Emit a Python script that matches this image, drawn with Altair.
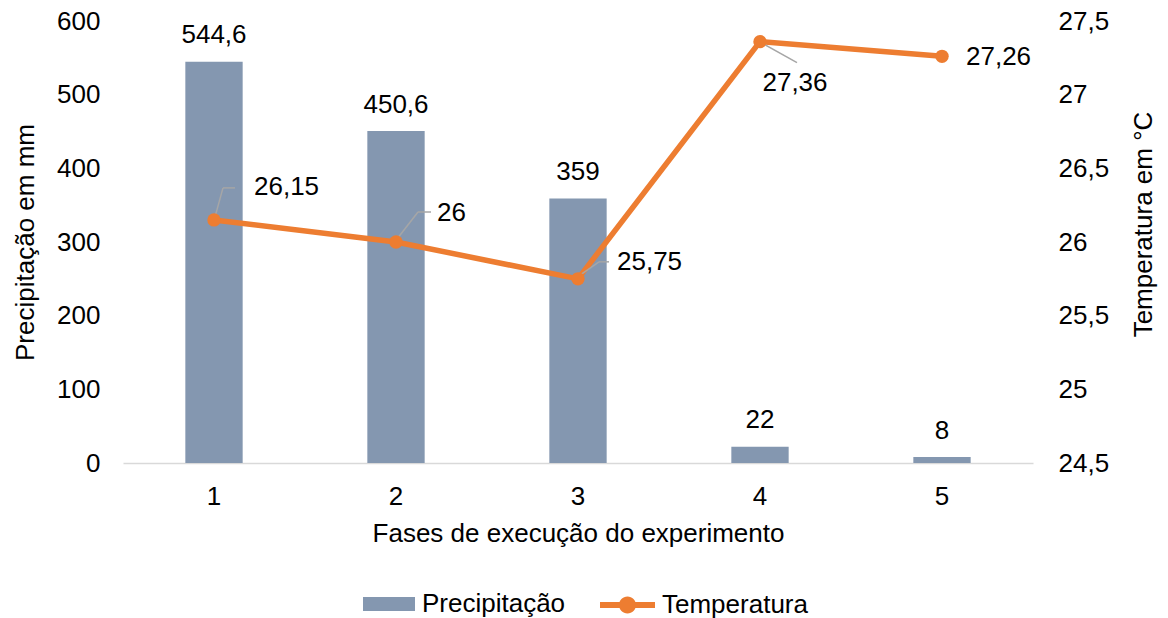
import altair as alt
import pandas as pd

fases = ["1", "2", "3", "4", "5"]
precipitacao = [544.6, 450.6, 359, 22, 8]
temperatura = [26.15, 26, 25.75, 27.36, 27.26]
left_ticks = [0, 100, 200, 300, 400, 500, 600]
right_ticks = [24.5, 25, 25.5, 26, 26.5, 27, 27.5]


def br(v):
    return f"{v:g}".replace(".", ",")


df = pd.DataFrame({
    "fase": fases,
    "prec": precipitacao,
    "temp": temperatura,
    "prec_lbl": [br(v) for v in precipitacao],
    "temp_lbl": [br(v) for v in temperatura],
    "s1": ["Precipitação"] * len(fases),
    "s2": ["Temperatura"] * len(fases),
})

FONT = "Liberation Sans"
FS = 26
BAR = "#8497B0"
ORANGE = "#ED7D31"
LEAD = "#A6A6A6"

x_axis = alt.Axis(
    title="Fases de execução do experimento", labelAngle=0, ticks=False,
    domainColor="#D9D9D9", domainWidth=1.5, labelPadding=20, titlePadding=11,
)
x_scale = alt.Scale(paddingInner=0.685, paddingOuter=0.3425)


def xenc(**kw):
    return alt.X("fase:N", scale=x_scale, axis=x_axis, **kw)


y_left = alt.Y(
    "prec:Q",
    scale=alt.Scale(domain=[0, 600], nice=False),
    axis=alt.Axis(values=left_ticks, title="Precipitação em mm", domain=False,
                  ticks=False, grid=False, labelPadding=23, titlePadding=18),
)
y_right = alt.Y(
    "temp:Q",
    scale=alt.Scale(domain=[24.5, 27.5], nice=False, zero=False),
    axis=alt.Axis(orient="right", values=right_ticks, format=".1~f",
                  labelExpr="replace(datum.label, '.', ',')",
                  title="Temperatura em °C", titleAngle=270, titleY=203,
                  domain=False, ticks=False, grid=False, labelPadding=25,
                  titlePadding=48),
)

base = alt.Chart(df)

bar_sym = "M-1,-0.27L1,-0.27L1,0.27L-1,0.27Z"
line_sym = ("M-1,-0.11L1,-0.11L1,0.11L-1,0.11Z "
            "M-0.31,0A0.31,0.31 0 1 1 0.31,0A0.31,0.31 0 1 1 -0.31,0Z")

bars = base.mark_bar(color=BAR).encode(
    x=xenc(),
    y=y_left,
    color=alt.Color("s1:N", scale=alt.Scale(domain=["Precipitação"], range=[BAR]),
                    legend=alt.Legend(title=None, orient="none", legendX=240, legendY=557,
                                      symbolType=bar_sym, symbolSize=2704,
                                      symbolStrokeWidth=0, labelOffset=7, padding=0)),
)
bar_text = base.mark_text(baseline="alphabetic", dy=-18.5, font=FONT, fontSize=FS,
                          color="black").encode(
    x=xenc(), y=y_left, text="prec_lbl:N")

left = alt.layer(bars, bar_text)

line = base.mark_line(color=ORANGE, strokeWidth=5.5).encode(x=xenc(), y=y_right)
points = base.mark_circle(size=180, opacity=1).encode(
    x=xenc(), y=y_right,
    color=alt.Color("s2:N", scale=alt.Scale(domain=["Temperatura"], range=[ORANGE]),
                    legend=alt.Legend(title=None, orient="none", legendX=477, legendY=556.5,
                                      symbolType=line_sym, symbolSize=3025,
                                      symbolStrokeWidth=0, labelOffset=7, padding=0)),
)

leader_specs = [
    ("1", 1, -3, 9, -32), ("1", 9, -32, 21, -32),
    ("2", 1, -3, 22, -30), ("2", 22, -30, 35, -30),
    ("3", 1, -3, 21, -17), ("3", 21, -17, 31, -17),
    ("4", 1, 1, 37, 21),
]
leaders = []
for f, xo, yo, x2o, y2o in leader_specs:
    leaders.append(
        base.mark_rule(color=LEAD, strokeWidth=1.5, xOffset=xo, yOffset=yo,
                       x2Offset=x2o, y2Offset=y2o)
        .encode(x=xenc(bandPosition=0.5), y=y_right,
                x2=alt.X2("fase:N", bandPosition=0.5), y2=alt.Y2("temp:Q"))
        .transform_filter(alt.datum.fase == f)
    )

label_specs = [
    ("1", 40, -32.5, "left"),
    ("2", 41, -29, "left"),
    ("3", 39, -17, "left"),
    ("4", 35, 41, "center"),
    ("5", 24, 0.5, "left"),
]
temp_labels = []
for f, dx, dy, al in label_specs:
    temp_labels.append(
        base.mark_text(align=al, baseline="middle", dx=dx, dy=dy, font=FONT,
                       fontSize=FS, color="black")
        .encode(x=xenc(), y=y_right, text="temp_lbl:N")
        .transform_filter(alt.datum.fase == f)
    )

right = alt.layer(line, *leaders, points, *temp_labels)

chart = (
    alt.layer(left, right)
    .resolve_scale(y="independent", color="independent")
    .properties(
        width=910, height=442,
        autosize=alt.AutoSizeParams(type="none"),
        padding={"left": 123, "top": 21, "right": 135, "bottom": 155},
        background="white",
    )
    .configure_view(stroke=None)
    .configure_axis(labelFont=FONT, titleFont=FONT, labelFontSize=FS, titleFontSize=FS,
                    labelColor="black", titleColor="black", titleFontWeight="normal")
    .configure_legend(labelFont=FONT, labelFontSize=FS, labelColor="black",
                      direction="horizontal")
)

chart.save("out.html", embed_options={"renderer": "svg", "actions": False})
